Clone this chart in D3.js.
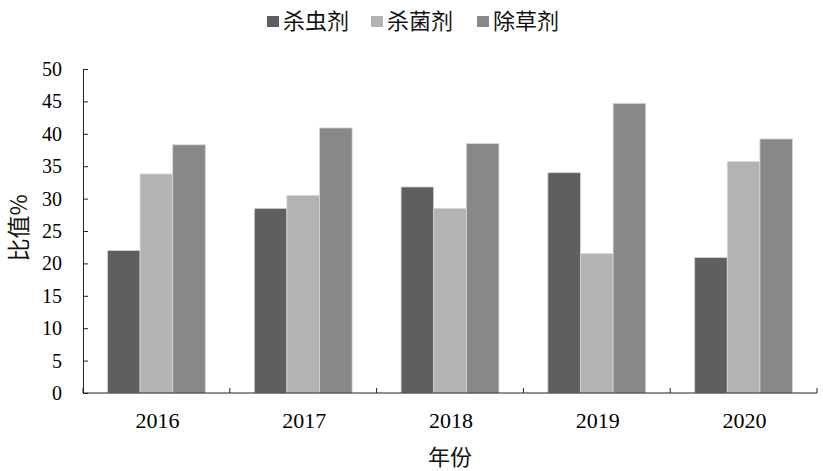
<!DOCTYPE html>
<html><head><meta charset="utf-8">
<script src="https://cdn.jsdelivr.net/npm/d3@7"></script>
<style>body{margin:0;background:#fff;}</style>
</head><body>
<svg id="c" width="823" height="471"></svg>
<script>
const categories = ["2016","2017","2018","2019","2020"];
const seriesNames = ["杀虫剂","杀菌剂","除草剂"];
const insecticide = [22.0, 28.5, 31.8, 34.0, 20.9];
const fungicide = [33.8, 30.5, 28.5, 21.5, 35.7];
const herbicide = [38.3, 40.9, 38.5, 44.7, 39.2];
const yTicks = [0,5,10,15,20,25,30,35,40,45,50];
const colors = ["#5f5f5f","#b3b3b3","#888888"];
const seriesValues = [insecticide, fungicide, herbicide];

const svg = d3.select("#c");
const m = {left:83, right:817, top:69, bottom:393};
const x = d3.scaleBand().domain(categories).range([m.left, m.right]).paddingInner(0).paddingOuter(0);
const x1 = d3.scaleBand().domain(seriesNames).range([0, x.bandwidth()]).paddingInner(0).paddingOuter(0.75);
const y = d3.scaleLinear().domain([0,50]).range([m.bottom, m.top]);

// bars
categories.forEach((c,i)=>{
  seriesNames.forEach((s,j)=>{
    const v = seriesValues[j][i];
    svg.append("rect")
      .attr("x", x(c)+x1(s))
      .attr("y", y(v))
      .attr("width", x1.bandwidth())
      .attr("height", y(0)-y(v))
      .attr("fill", colors[j])
      .attr("stroke", "#d8d8d8")
      .attr("stroke-width", 0.8);
  });
});

// y axis
const yAxis = d3.axisLeft(y).tickValues(yTicks).tickSize(-5).tickPadding(21).tickSizeOuter(0);
const gy = svg.append("g").attr("transform",`translate(${m.left},0)`).call(yAxis);
gy.selectAll("text").attr("font-family","'Liberation Serif', serif").attr("font-size","20px").attr("fill","#000");
gy.selectAll("line,path").attr("stroke","#222").attr("stroke-width",1);

// x axis with ticks at boundaries
const gx = svg.append("g").attr("transform",`translate(0,${m.bottom})`);
gx.append("line").attr("x1",m.left).attr("x2",m.right).attr("y1",0).attr("y2",0).attr("stroke","#222");
const bounds = categories.map(c=>x(c)).concat([x(categories[categories.length-1])+x.bandwidth()]);
bounds.forEach(b=>{
  gx.append("line").attr("x1",b).attr("x2",b).attr("y1",0).attr("y2",-5).attr("stroke","#222");
});
categories.forEach(c=>{
  gx.append("text").attr("x", x(c)+x.bandwidth()/2+1).attr("y", 35)
    .attr("text-anchor","middle").attr("font-family","'Liberation Serif', serif")
    .attr("font-size","22px").attr("fill","#000").text(c);
});

// axis titles
svg.append("text").attr("x", 450).attr("y", 465)
  .attr("text-anchor","middle").attr("font-family","'Noto Sans CJK SC', sans-serif")
  .attr("font-size","22px").attr("fill","#111").text("年份");
svg.append("text").attr("transform","translate(27,228) rotate(-90)")
  .attr("text-anchor","middle").attr("font-family","'Noto Sans CJK SC', sans-serif")
  .attr("font-size","23px").attr("fill","#111").text("比值%");

// legend
const legX = [267, 371, 477];
seriesNames.forEach((s,j)=>{
  svg.append("rect").attr("x",legX[j]).attr("y",16).attr("width",12).attr("height",11).attr("fill",colors[j]);
  svg.append("text").attr("x",legX[j]+16).attr("y",29).attr("font-family","'Noto Sans CJK SC', sans-serif")
    .attr("font-size","22px").attr("fill","#111").text(s);
});
</script>
</body></html>
